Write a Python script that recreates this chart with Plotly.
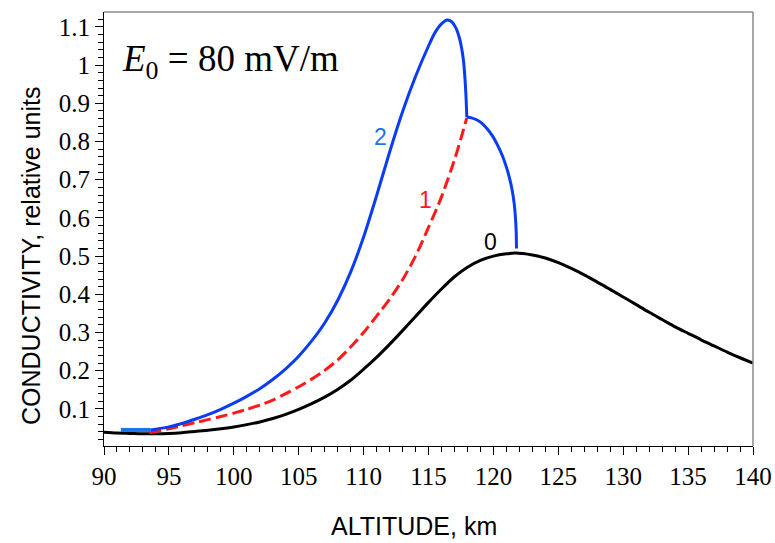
import plotly.graph_objects as go

# Curve 0: background conductivity
alt0 = [90, 91, 92, 93, 94, 95, 96, 97, 98, 99, 100, 101, 102, 103, 104, 105, 106, 107,
        108, 109, 110, 111, 112, 113, 114, 115, 116, 117, 118, 119, 120, 121, 121.7,
        123, 124, 125, 126, 127, 128, 129, 130, 131, 132, 133, 134, 135, 136, 137,
        138, 139, 140]
sig0 = [0.039, 0.037, 0.036, 0.035, 0.035, 0.036, 0.038, 0.041, 0.044, 0.048, 0.053,
        0.059, 0.066, 0.075, 0.086, 0.099, 0.114, 0.131, 0.151, 0.175, 0.204, 0.235,
        0.269, 0.305, 0.342, 0.379, 0.414, 0.446, 0.471, 0.489, 0.5, 0.506, 0.508,
        0.503, 0.495, 0.483, 0.468, 0.451, 0.432, 0.413, 0.393, 0.373, 0.353, 0.334,
        0.315, 0.298, 0.281, 0.265, 0.249, 0.234, 0.22]

# Curve 1 (dashed)
alt1 = [93.5, 94, 95, 96, 97, 98, 99, 100, 101, 102, 103, 104, 105, 106, 107, 108, 109,
        110, 111, 112, 113, 114, 115, 116, 117, 117.5, 117.95]
sig1 = [0.038, 0.041, 0.048, 0.056, 0.064, 0.072, 0.08, 0.089, 0.099, 0.11, 0.123,
        0.14, 0.158, 0.178, 0.201, 0.228, 0.262, 0.3, 0.343, 0.387, 0.438, 0.5, 0.575,
        0.655, 0.752, 0.808, 0.862]

# Curve 2: initial flat part
alt2a = [91.3, 93.6]
sig2a = [0.045, 0.045]

# Curve 2: rise, maximum and drop to the branching point
alt2 = [93.6, 94, 95, 96, 97, 98, 99, 100, 101, 102, 103, 104, 105, 106, 107, 108, 109,
        110, 111, 112, 113, 114, 115, 115.5, 116, 116.44, 116.8, 117.1, 117.35, 117.55,
        117.7, 117.82, 117.9, 117.95]
sig2 = [0.045, 0.047, 0.053, 0.062, 0.073, 0.085, 0.099, 0.115, 0.133, 0.153, 0.177,
        0.205, 0.238, 0.278, 0.325, 0.384, 0.458, 0.55, 0.658, 0.772, 0.878, 0.97, 1.05,
        1.085, 1.108, 1.118, 1.113, 1.098, 1.075, 1.045, 1.01, 0.96, 0.91, 0.864]

# Curve 2: branch beyond the branching point
alt2b = [117.95, 118.3, 118.7, 119.1, 119.5, 119.9, 120.3, 120.7, 121.0, 121.25, 121.45,
         121.6, 121.7, 121.76, 121.78]
sig2b = [0.864, 0.862, 0.857, 0.848, 0.834, 0.816, 0.792, 0.762, 0.733, 0.703, 0.672,
         0.638, 0.6, 0.56, 0.52]

x_ticks = [90, 95, 100, 105, 110, 115, 120, 125, 130, 135, 140]
x_tick_text = [str(v) for v in x_ticks]
y_ticks = [0.1, 0.2, 0.3, 0.4, 0.5, 0.6, 0.7, 0.8, 0.9, 1.0, 1.1]
y_tick_text = ["0.1", "0.2", "0.3", "0.4", "0.5", "0.6", "0.7", "0.8", "0.9", "1", "1.1"]

curve_labels = [("2", 111.3, 0.812, "#1a74e8"),
                ("1", 114.8, 0.647, "#ff1a1a"),
                ("0", 119.8, 0.537, "#000000")]

BLUE = "#0a3cf5"
RED = "#ff1a1a"
SERIF = "Liberation Serif"
SANS = "Liberation Sans"

fig = go.Figure()
fig.add_trace(go.Scatter(x=alt0, y=sig0, mode="lines",
                         line=dict(color="black", width=3, shape="spline", smoothing=0.8),
                         showlegend=False))
fig.add_trace(go.Scatter(x=alt1, y=sig1, mode="lines",
                         line=dict(color=RED, width=3, dash="12px,5px", shape="spline",
                                   smoothing=0.8),
                         showlegend=False))
fig.add_trace(go.Scatter(x=alt2a, y=sig2a, mode="lines", line=dict(color="#1a74e8", width=4),
                         showlegend=False))
fig.add_trace(go.Scatter(x=alt2, y=sig2, mode="lines",
                         line=dict(color=BLUE, width=3, shape="spline", smoothing=0.6),
                         showlegend=False))
fig.add_trace(go.Scatter(x=alt2b, y=sig2b, mode="lines",
                         line=dict(color=BLUE, width=3, shape="spline", smoothing=0.6),
                         showlegend=False))

for txt, xx, yy, col in curve_labels:
    fig.add_annotation(x=xx, y=yy, text=txt, showarrow=False,
                       font=dict(family=SANS, size=23, color=col))

fig.add_annotation(xref="paper", yref="paper", x=0.025, y=0.885, xanchor="left", yanchor="middle",
                   text="<i>E</i><sub>0</sub> = 80 mV/m", showarrow=False,
                   font=dict(family=SERIF, size=37, color="black"))

# axis titles
title_font = dict(family=SANS, size=25, color="black")
fig.add_annotation(xref="paper", yref="paper", x=0.478, y=-0.185, text="ALTITUDE, km",
                   showarrow=False, xanchor="center", yanchor="middle", font=title_font)
fig.add_annotation(xref="paper", yref="paper", x=-0.1125, y=0.44,
                   text="CONDUCTIVITY, relative units", textangle=-90,
                   showarrow=False, xanchor="center", yanchor="middle", font=title_font)

# grey frame on top and right
fig.add_shape(type="line", xref="paper", yref="paper", x0=0, x1=1, y0=1, y1=1,
              line=dict(color="#8a8a8a", width=1.5))
fig.add_shape(type="line", xref="paper", yref="paper", x0=1, x1=1, y0=0, y1=1,
              line=dict(color="#8a8a8a", width=1.5))

fig.update_layout(
    width=775, height=543, margin=dict(l=104, r=22, t=12, b=97, autoexpand=False),
    font=dict(family=SERIF, size=25, color="black"),
    plot_bgcolor="white", paper_bgcolor="white",
    xaxis=dict(range=[90, 140], tickmode="array", tickvals=x_ticks, ticktext=x_tick_text,
               automargin=False,
               ticks="outside", ticklen=8, tickwidth=1, tickcolor="black",
               showline=True, linecolor="black", linewidth=1, showgrid=False, zeroline=False,
               tickfont=dict(family=SERIF, size=25, color="black"),
               minor=dict(dtick=1, ticks="outside", ticklen=5, tickcolor="black",
                          showgrid=False)),
    yaxis=dict(range=[0.003, 1.139], tickmode="array", tickvals=y_ticks, ticktext=y_tick_text,
               automargin=False,
               ticks="outside", ticklen=8, tickwidth=1, tickcolor="black",
               showline=True, linecolor="black", linewidth=1, showgrid=False, zeroline=False,
               tickfont=dict(family=SERIF, size=25, color="black"),
               minor=dict(dtick=0.02, tick0=0, ticks="outside", ticklen=5, tickcolor="black",
                          showgrid=False)),
)

fig.write_html("out.html")
